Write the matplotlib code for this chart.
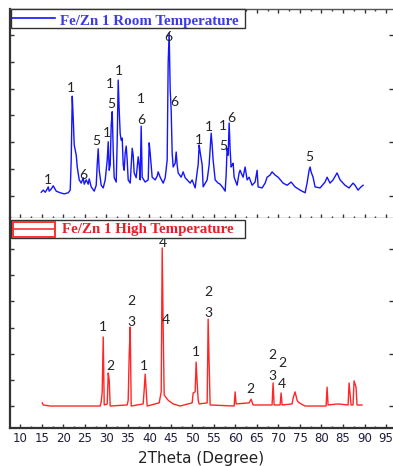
import matplotlib
matplotlib.use("Agg")
import matplotlib.pyplot as plt
from matplotlib.ticker import MultipleLocator
from matplotlib.patches import Rectangle
from matplotlib.lines import Line2D

# XRD pattern, room temperature (blue)
room_2theta = [14.88, 15.34, 15.81, 16.27, 16.50, 16.73, 17.20, 17.66, 18.36, 19.29,
               20.22, 21.15, 21.61, 21.84, 22.08, 22.31, 22.54, 23.01, 23.24, 23.70,
               24.17, 24.63, 24.86, 25.33, 25.79, 26.02, 26.49, 27.19, 27.65, 27.88,
               28.11, 28.35, 28.81, 29.28, 29.74, 30.21, 30.44, 30.67, 30.90, 31.13,
               31.37, 31.60, 31.83, 32.30, 32.53, 32.76, 32.99, 33.22, 33.45, 33.69,
               33.92, 34.15, 34.38, 34.62, 34.85, 35.08, 35.55, 36.01, 36.24, 36.47,
               36.94, 37.40, 37.63, 37.87, 38.10, 38.33, 39.03, 39.73, 39.96, 40.19,
               40.65, 41.35, 41.82, 42.05, 42.51, 43.21, 43.68, 44.14, 44.37, 44.60,
               44.84, 45.07, 45.30, 45.53, 46.00, 46.23, 46.46, 46.69, 47.39, 47.85,
               48.32, 48.78, 49.48, 49.94, 50.64, 51.11, 51.34, 51.57, 51.80, 52.27,
               52.50, 53.43, 53.89, 54.36, 54.59, 54.82, 55.29, 55.98, 56.45, 57.14,
               57.61, 57.84, 58.07, 58.31, 58.54, 58.77, 59.00, 59.24, 59.47, 59.70,
               60.39, 60.86, 61.09, 61.32, 61.79, 62.25, 62.72, 63.18, 63.88, 64.57,
               65.04, 65.27, 66.20, 66.90, 67.36, 68.06, 68.52, 69.22, 69.92, 71.08,
               72.01, 72.94, 73.86, 75.03, 76.19, 76.65, 77.12, 77.35, 77.58, 78.04,
               78.51, 79.67, 80.83, 81.30, 81.99, 82.69, 83.62, 84.32, 85.48, 86.41,
               87.33, 87.80, 88.49, 89.19, 89.66]
room_int = [0.07, 0.11, 0.07, 0.13, 0.17, 0.09, 0.13, 0.19, 0.09, 0.06,
            0.04, 0.06, 0.11, 0.67, 1.86, 1.45, 0.95, 0.76, 0.54, 0.30,
            0.24, 0.34, 0.22, 0.30, 0.22, 0.32, 0.17, 0.09, 0.20, 0.58,
            0.88, 0.48, 0.20, 0.15, 0.30, 0.67, 1.01, 0.48, 0.58, 1.32,
            1.57, 0.86, 0.34, 0.26, 1.04, 2.16, 1.60, 1.16, 1.04, 1.08,
            0.58, 0.48, 0.80, 0.93, 0.67, 0.30, 0.24, 0.89, 0.76, 0.43,
            0.34, 0.73, 0.58, 0.30, 1.30, 0.35, 0.26, 0.30, 0.99, 0.80,
            0.35, 0.30, 0.37, 0.45, 0.35, 0.24, 0.34, 0.67, 2.48, 3.04,
            1.98, 1.60, 0.80, 0.54, 0.61, 0.82, 0.58, 0.43, 0.35, 0.45,
            0.34, 0.30, 0.24, 0.30, 0.15, 0.45, 0.58, 0.95, 0.82, 0.58,
            0.17, 0.30, 0.58, 1.17, 0.95, 0.67, 0.30, 0.24, 0.22, 0.15,
            0.09, 0.39, 0.89, 0.76, 1.36, 0.86, 0.54, 0.58, 0.61, 0.35,
            0.20, 0.43, 0.48, 0.43, 0.35, 0.54, 0.30, 0.35, 0.20, 0.26,
            0.48, 0.17, 0.15, 0.24, 0.35, 0.39, 0.45, 0.39, 0.35, 0.24,
            0.20, 0.26, 0.17, 0.11, 0.06, 0.24, 0.48, 0.54, 0.45, 0.35,
            0.17, 0.15, 0.26, 0.35, 0.24, 0.30, 0.43, 0.30, 0.20, 0.15,
            0.24, 0.20, 0.11, 0.17, 0.20]

# XRD pattern, high temperature (red)
high_2theta = [15.11, 15.34, 16.97, 28.58, 28.81, 29.04, 29.28, 29.51, 30.21, 30.44,
               30.67, 30.90, 34.85, 35.08, 35.31, 35.55, 35.78, 38.56, 38.80, 39.03,
               39.49, 42.28, 42.75, 42.98, 43.21, 43.44, 44.37, 45.53, 47.16, 49.94,
               50.18, 50.64, 50.87, 51.11, 51.34, 51.57, 53.43, 53.66, 53.89, 54.12,
               59.70, 59.93, 60.16, 63.18, 63.65, 64.11, 68.52, 68.75, 68.99, 70.38,
               70.61, 70.85, 73.17, 73.40, 73.86, 74.33, 74.56, 75.26, 76.19, 81.07,
               81.30, 81.53, 83.85, 86.18, 86.41, 86.87, 87.33, 87.57, 88.03, 88.26,
               89.42]
high_int = [0.06, 0.02, 0.00, 0.00, 0.08, 0.27, 1.32, 0.02, 0.04, 0.63,
            0.50, 0.00, 0.02, 0.11, 0.97, 1.51, 0.00, 0.04, 0.31, 0.61,
            0.00, 0.06, 0.27, 3.02, 1.51, 0.21, 0.11, 0.04, 0.00, 0.06,
            0.25, 0.27, 0.84, 0.44, 0.11, 0.04, 0.06, 1.66, 0.82, 0.02,
            0.00, 0.27, 0.04, 0.06, 0.13, 0.02, 0.02, 0.44, 0.02, 0.02,
            0.25, 0.02, 0.04, 0.15, 0.27, 0.11, 0.08, 0.04, 0.00, 0.00,
            0.36, 0.02, 0.04, 0.02, 0.44, 0.02, 0.02, 0.48, 0.36, 0.02,
            0.02]

# phase labels
room_lbl_x = [16.50, 21.84, 24.63, 27.65, 30.21, 30.90, 31.13, 32.99, 38.10, 38.10,
              44.37, 45.76, 51.57, 53.89, 57.14, 57.14, 59.00, 77.12]
room_lbl_y = [0.30, 2.01, 0.39, 1.02, 1.17, 2.09, 1.71, 2.33, 1.81, 1.42,
              2.96, 1.75, 1.04, 1.29, 1.30, 0.93, 1.45, 0.73]
room_lbl = ["1", "1", "6", "5", "1", "1", "5", "1", "1", "6",
            "6", "6", "1", "1", "1", "5", "6", "5"]

high_lbl_x = [29.28, 30.90, 35.78, 35.78, 38.80, 43.21, 43.91, 50.87, 53.66, 53.66,
              63.41, 68.52, 68.52, 70.85, 70.85]
high_lbl_y = [1.51, 0.76, 2.01, 1.61, 0.76, 3.11, 1.64, 1.03, 2.18, 1.78,
              0.32, 0.97, 0.57, 0.82, 0.42]
high_lbl = ["1", "2", "2", "3", "1", "4", "4", "1", "2", "3",
            "2", "2", "3", "2", "4"]

W, H = 393, 466
fig = plt.figure(figsize=(W / 100, H / 100), dpi=100)


def fpos(x, y):
    return (x / W, 1 - y / H)


ax1 = fig.add_axes([9.5 / W, 1 - 218 / H, 383 / W, 209 / H])
ax2 = fig.add_axes([9.5 / W, 1 - 428 / H, 383 / W, 210 / H])

ax1.plot(room_2theta, room_int, color="#1414ff", lw=1.0)
ax2.plot(high_2theta, high_int, color="#ff2626", lw=1.0)

for x, y, s in zip(room_lbl_x, room_lbl_y, room_lbl):
    ax1.text(x, y, s, ha="center", va="center", fontsize=10, family="Lato", color="#222222")
for x, y, s in zip(high_lbl_x, high_lbl_y, high_lbl):
    ax2.text(x, y, s, ha="center", va="center", fontsize=10, family="Lato", color="#222222")

ax1.set_ylim(-0.41, 3.484)
ax2.set_ylim(-0.42, 3.593)

for ax in (ax1, ax2):
    ax.set_xlim(7.5, 96.5)
    ax.xaxis.set_major_locator(MultipleLocator(5))
    ax.xaxis.set_minor_locator(MultipleLocator(2.5))
    ax.yaxis.set_major_locator(MultipleLocator(1))
    ax.yaxis.set_minor_locator(MultipleLocator(0.5))
    ax.spines["right"].set_visible(False)
    ax.spines["left"].set_color("#333333")
    ax.spines["left"].set_linewidth(1.6)
    ax.tick_params(axis="both", which="both", direction="in", colors="#333333", width=1.0)
    ax.tick_params(axis="x", which="major", length=3.2)
    ax.tick_params(axis="x", which="minor", length=1.5)
    ax.tick_params(axis="y", which="both", length=2.8, left=True, right=True, labelleft=False)
    ax.tick_params(axis="y", which="minor", right=False)

ax1.spines["top"].set_color("#555555")
ax1.spines["top"].set_linewidth(1.0)
ax1.spines["bottom"].set_color("#777777")
ax1.spines["bottom"].set_linewidth(1.0)
ax1.tick_params(axis="x", which="both", top=True, bottom=True, labelbottom=False)

ax2.spines["top"].set_visible(False)
ax2.spines["bottom"].set_color("#333333")
ax2.spines["bottom"].set_linewidth(1.6)
ax2.tick_params(axis="x", which="both", top=False, bottom=True)
ax2.tick_params(axis="x", which="major", pad=3, labelsize=8.5, labelcolor="#1e1e3c")
ax2.set_xticks(range(10, 96, 5))
ax2.set_xlabel("2Theta (Degree)", fontsize=11, color="#222222", labelpad=4)

# legend boxes
tf = fig.transFigure
for top, bot in ((9.3, 28.3), (219.5, 238.5)):
    x0, y0 = fpos(11, bot)
    x1, y1 = fpos(245, top)
    fig.add_artist(Rectangle((x0, y0), x1 - x0, y1 - y0, transform=tf,
                             facecolor="white", edgecolor="#333333", lw=1.0, zorder=5))

fig.add_artist(Line2D([12 / W, 55 / W], [fpos(0, 17.5)[1]] * 2, transform=tf,
                      color="#1414ff", lw=1.2, zorder=6))
fig.text(60 / W, fpos(0, 24.8)[1], "Fe/Zn 1 Room Temperature", family="Liberation Serif",
         weight="bold", fontsize=10.8, color="#3a3ae6", va="baseline", zorder=6)

hx0, hy0 = fpos(12.5, 236.5)
hx1, hy1 = fpos(55, 221.5)
fig.add_artist(Rectangle((hx0, hy0), hx1 - hx0, hy1 - hy0, transform=tf,
                         facecolor="none", edgecolor="#ff3030", lw=1.4, zorder=6))
fig.add_artist(Line2D([hx0, hx1], [fpos(0, 229)[1]] * 2, transform=tf,
                      color="#ff3030", lw=1.2, zorder=6))
fig.text(62 / W, fpos(0, 233)[1], "Fe/Zn 1 High Temperature", family="Liberation Serif",
         weight="bold", fontsize=10.8, color="#ee1c24", va="baseline", zorder=6)

fig.savefig("out.png", dpi=100)
